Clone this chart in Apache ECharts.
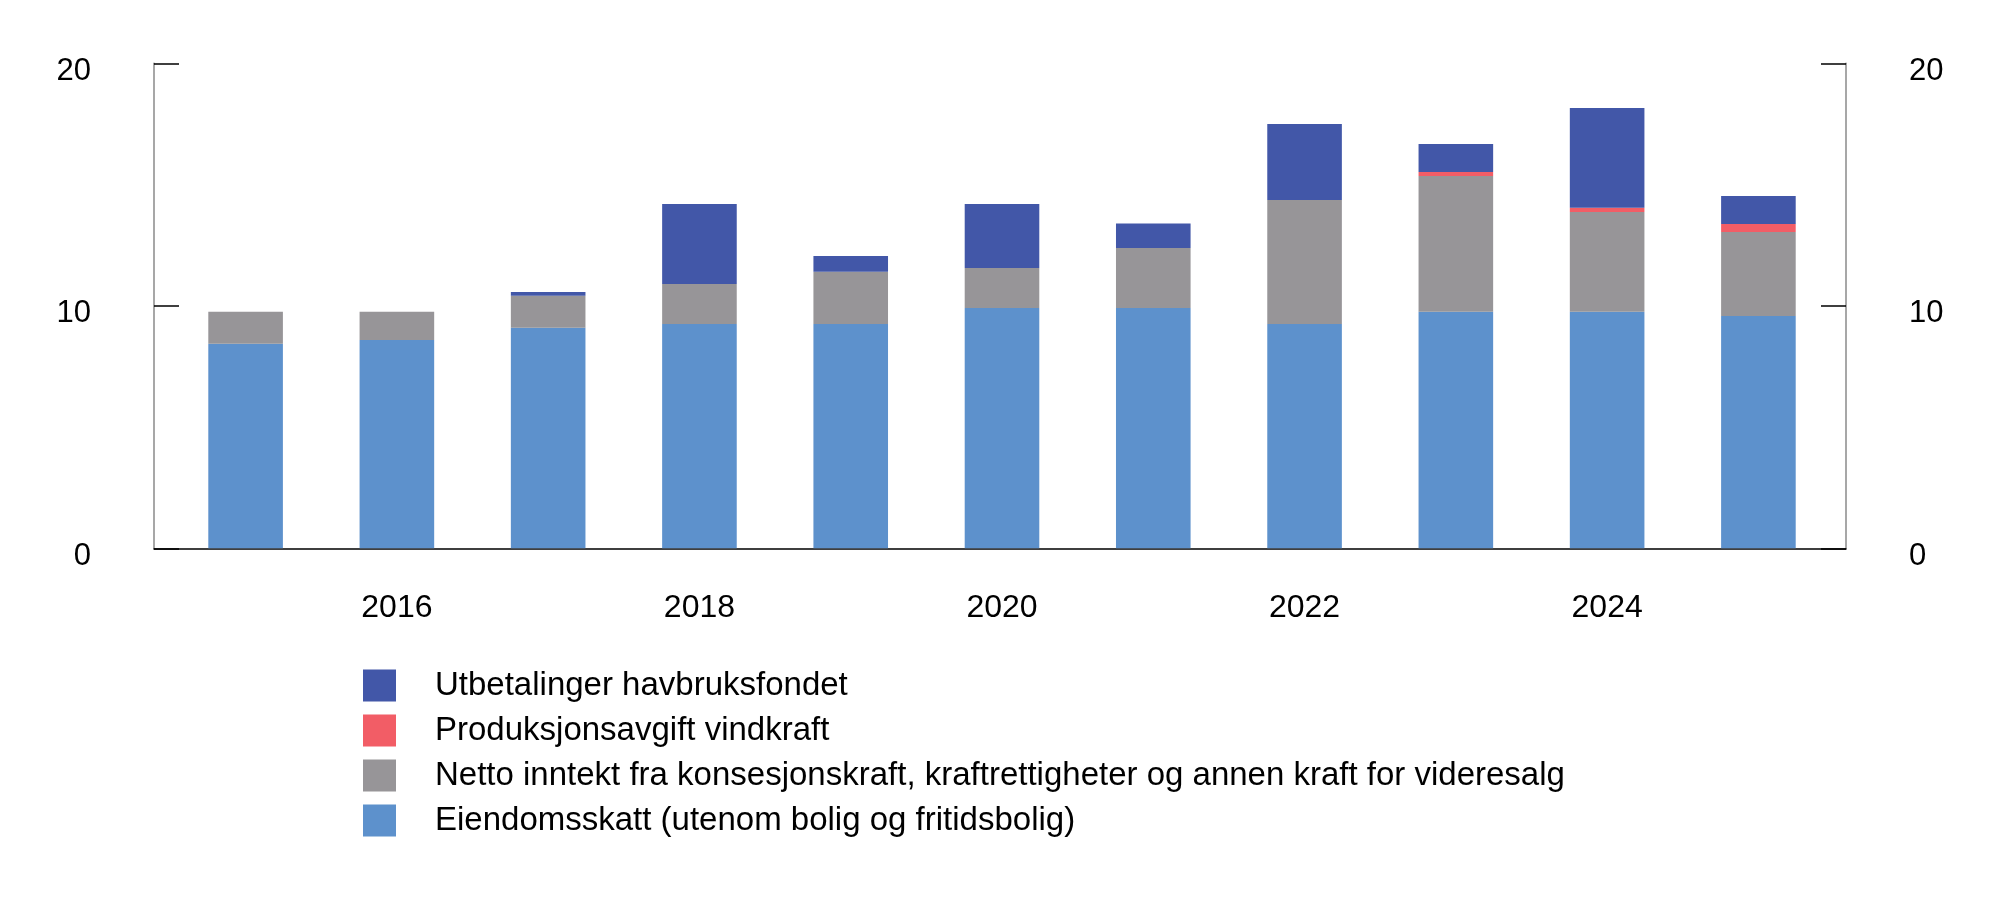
<!DOCTYPE html>
<html>
<head>
<meta charset="utf-8">
<script src="https://cdn.jsdelivr.net/npm/echarts@6/dist/echarts.min.js"></script>
<style>
  html, body { margin: 0; padding: 0; background: #fff; }
  #main { width: 2000px; height: 908px; }
</style>
</head>
<body>
<div id="main"></div>
<script>
// år og verdier (mrd. kroner)
var years = [2015, 2016, 2017, 2018, 2019, 2020, 2021, 2022, 2023, 2024, 2025];
var eiendomsskatt = [8.43, 8.59, 9.09, 9.25, 9.25, 9.91, 9.91, 9.25, 9.75, 9.75, 9.58];
var nettoKraft = [1.32, 1.16, 1.32, 1.65, 2.15, 1.65, 2.47, 5.11, 5.6, 4.12, 3.46];
var vindkraft = [0, 0, 0, 0, 0, 0, 0, 0, 0.17, 0.17, 0.33];
var havbruk = [0, 0, 0.16, 3.3, 0.65, 2.64, 1.01, 3.14, 1.15, 4.12, 1.16];
var xLabels = [2016, 2018, 2020, 2022, 2024];

var names = [
  'Eiendomsskatt (utenom bolig og fritidsbolig)',
  'Netto inntekt fra konsesjonskraft, kraftrettigheter og annen kraft for videresalg',
  'Produksjonsavgift vindkraft',
  'Utbetalinger havbruksfondet'
];
var colors = ['#5d91cc', '#979598', '#f25d66', '#4257a8'];

// verdi først, år etterpå -> stabling skjer på verdien (y)
function pairs(vals) {
  return years.map(function (y, i) { return [vals[i], y]; });
}

var chart = echarts.init(document.getElementById('main'), null, { renderer: 'canvas' });

var font = 'Liberation Sans, Arial, sans-serif';

function yAxis(pos) {
  return {
    type: 'value',
    position: pos,
    min: 0,
    max: 20,
    interval: 10,
    axisLine: { show: true, lineStyle: { color: '#8a8a8a', width: 1.5 } },
    axisTick: { show: true, inside: true, length: 25, lineStyle: { color: '#000', width: 1.5 } },
    axisLabel: {
      margin: 63,
      fontSize: 31,
      fontFamily: font,
      color: '#000',
      verticalAlign: 'top',
      lineHeight: 16,
      align: pos === 'left' ? 'right' : 'left'
    },
    splitLine: { show: false }
  };
}

function barSeries(i, vals) {
  return {
    name: names[i],
    type: 'bar',
    stack: 'sum',
    barWidth: 74.6,
    encode: { x: 1, y: 0 },
    data: pairs(vals)
  };
}

var option = {
  animation: false,
  color: colors,
  grid: { left: 154, right: 154, top: 63.3, bottom: 359.7 },
  legend: {
    orient: 'vertical',
    left: 363,
    top: 669,
    padding: 0,
    itemWidth: 33,
    itemHeight: 32,
    itemGap: 12,
    icon: 'rect',
    data: names.slice().reverse(),
    textStyle: { fontSize: 33, fontFamily: font, color: '#000', padding: [0, 0, 0, 34] }
  },
  xAxis: {
    type: 'value',
    min: 2014.3945,
    max: 2025.579,
    axisLine: { show: true, onZero: false, lineStyle: { color: '#000', width: 1.5 } },
    axisTick: { show: false },
    splitLine: { show: false },
    axisLabel: {
      customValues: xLabels,
      margin: 44,
      fontSize: 32,
      fontFamily: font,
      color: '#000',
      formatter: function (v) { return String(v); }
    }
  },
  yAxis: [yAxis('left'), yAxis('right')],
  series: [
    barSeries(0, eiendomsskatt),
    barSeries(1, nettoKraft),
    barSeries(2, vindkraft),
    barSeries(3, havbruk)
  ]
};

chart.setOption(option);
</script>
</body>
</html>
